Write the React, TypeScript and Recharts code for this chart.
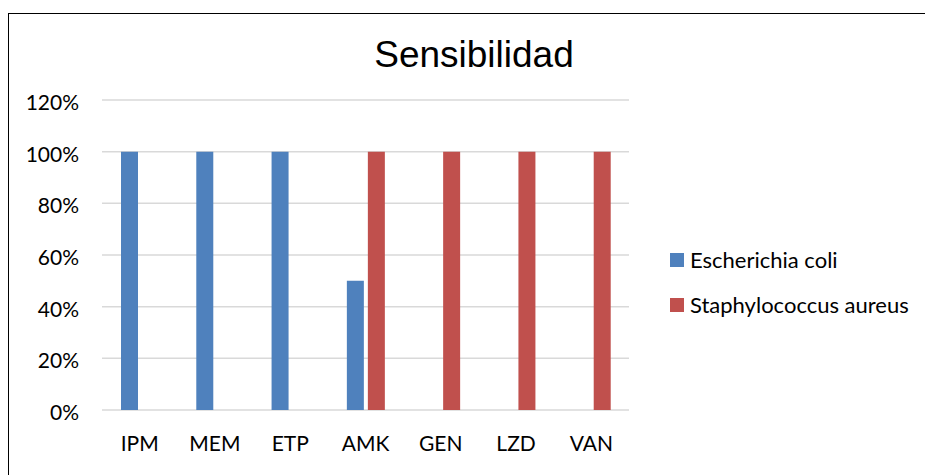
import React from 'react';
import { BarChart, Bar, XAxis, YAxis, CartesianGrid, Legend } from 'recharts';

const categories = ['IPM', 'MEM', 'ETP', 'AMK', 'GEN', 'LZD', 'VAN'];
const ecoli: (number | null)[] = [1, 1, 1, 0.5, null, null, null];
const saureus: (number | null)[] = [null, null, null, 1, 1, 1, 1];
const yTicks = [0, 0.2, 0.4, 0.6, 0.8, 1.0, 1.2];
const seriesNames = ['Escherichia coli', 'Staphylococcus aureus'];
const colors = ['#4F81BD', '#C0504D'];
const title = 'Sensibilidad';

const data = categories.map((c, i) => ({ name: c, ecoli: ecoli[i], saureus: saureus[i] }));

const FONT = 'Lato, "Open Sans", sans-serif';

const YTick = (props: any) => {
  const { x, y, payload } = props;
  return (
    <text x={x} y={y + 10} textAnchor="end" fontFamily={FONT} fontSize={21} fill="#000">
      {`${Math.round(payload.value * 100)}%`}
    </text>
  );
};

const XTick = (props: any) => {
  const { x, y, payload } = props;
  return (
    <text x={x} y={y + 41} textAnchor="middle" fontFamily={FONT} fontSize={21} fill="#000">
      {payload.value}
    </text>
  );
};

const renderLegend = (props: any) => {
  const { payload } = props;
  return (
    <div style={{ fontFamily: FONT, fontSize: 22, color: '#000' }}>
      {payload.map((p: any, i: number) => (
        <div key={i} style={{ height: 45, display: 'flex', alignItems: 'center', whiteSpace: 'nowrap' }}>
          <span style={{ display: 'inline-block', width: 14, height: 14, background: p.color, marginRight: 6 }} />
          <span>{p.value}</span>
        </div>
      ))}
    </div>
  );
};

export default function App() {
  return (
    <div style={{ position: 'fixed', left: 0, top: 0, width: 925, height: 475, overflow: 'hidden', background: '#fff' }}>
      <div
        style={{
          position: 'absolute',
          left: 8,
          top: 13,
          width: 932,
          height: 480,
          boxSizing: 'border-box',
          border: '1px solid #000',
          background: '#fff',
        }}
      >
        <div
          style={{
            position: 'absolute',
            left: 0,
            top: 22,
            width: 930,
            textAlign: 'center',
            fontFamily: '"Liberation Sans", Arial, sans-serif',
            fontSize: 37,
            lineHeight: '37px',
            color: '#000',
            zIndex: 2,
          }}
        >
          {title}
        </div>
        <BarChart
          width={930}
          height={470}
          data={data}
          margin={{ top: 86, right: 310, bottom: 34, left: 0 }}
          barSize={17}
          barGap={4}
        >
          <CartesianGrid vertical={false} stroke="#D9D9D9" strokeWidth={1.5} />
          <XAxis
            dataKey="name"
            axisLine={false}
            tickLine={false}
            tickSize={0}
            tickMargin={0}
            height={40}
            tick={<XTick />}
            interval={0}
          />
          <YAxis
            domain={[0, 1.2]}
            ticks={yTicks}
            axisLine={false}
            tickLine={false}
            tickSize={0}
            tickMargin={23}
            width={93}
            tick={<YTick />}
            interval={0}
          />
          <Legend
            layout="vertical"
            verticalAlign="middle"
            align="center"
            content={renderLegend}
            wrapperStyle={{ position: 'absolute', left: 661, top: 223, width: 262 }}
          />
          <Bar dataKey="ecoli" name={seriesNames[0]} fill={colors[0]} isAnimationActive={false} />
          <Bar dataKey="saureus" name={seriesNames[1]} fill={colors[1]} isAnimationActive={false} />
        </BarChart>
      </div>
    </div>
  );
}
